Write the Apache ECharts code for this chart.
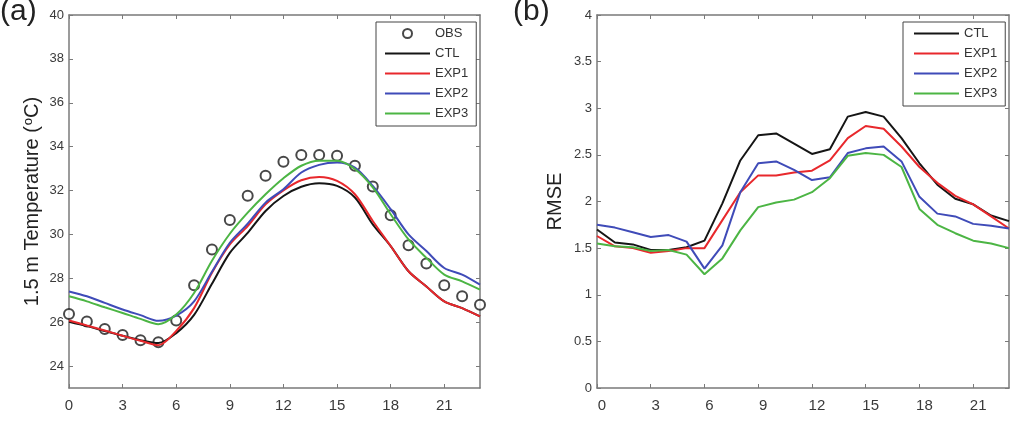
<!DOCTYPE html>
<html>
<head>
<meta charset="utf-8">
<script src="https://cdn.jsdelivr.net/npm/echarts@6/dist/echarts.min.js"></script>
<style>
  html, body { margin: 0; padding: 0; background: #fff; }
  #chart { width: 1020px; height: 421px; }
</style>
</head>
<body>
<div id="chart"></div>
<script>
// hours of the day (x axis of both panels)
var hours = [0, 1, 2, 3, 4, 5, 6, 7, 8, 9, 10, 11, 12, 13, 14, 15, 16, 17, 18, 19, 20, 21, 22, 23];
var xTicks = [0, 3, 6, 9, 12, 15, 18, 21];
var tempTicks = [24, 26, 28, 30, 32, 34, 36, 38, 40];

// (a) 1.5 m temperature
var tObs = [26.37, 26.03, 25.69, 25.42, 25.18, 25.08, 26.08, 27.68, 29.31, 30.66, 31.76, 32.67,
  33.31, 33.62, 33.62, 33.59, 33.13, 32.18, 30.87, 29.51, 28.67, 27.68, 27.18, 26.79];
var tCtl = [26.02, 25.82, 25.6, 25.38, 25.18, 25.05, 25.5, 26.33, 27.75, 29.16, 30.07, 31.07,
  31.75, 32.17, 32.33, 32.21, 31.68, 30.46, 29.47, 28.32, 27.63, 26.95, 26.64, 26.26];
var tExp1 = [26.08, 25.85, 25.62, 25.38, 25.15, 24.95, 25.6, 26.64, 28.25, 29.54, 30.38, 31.37,
  32.01, 32.47, 32.62, 32.44, 31.83, 30.61, 29.47, 28.32, 27.63, 26.95, 26.64, 26.26];
var tExp2 = [27.4, 27.18, 26.88, 26.58, 26.32, 26.06, 26.3, 26.95, 28.3, 29.62, 30.49, 31.45,
  32.06, 32.82, 33.17, 33.28, 33.05, 32.21, 31.15, 30.0, 29.24, 28.47, 28.17, 27.71];
var tExp3 = [27.18, 26.95, 26.68, 26.42, 26.15, 25.91, 26.35, 27.33, 28.8, 30.03, 30.99, 31.83,
  32.56, 33.13, 33.36, 33.36, 32.98, 32.14, 30.92, 29.77, 28.93, 28.17, 27.86, 27.48];

// (b) RMSE
var rCtl = [1.70, 1.56, 1.54, 1.48, 1.48, 1.51, 1.58, 1.98, 2.44, 2.71, 2.73, 2.62,
  2.51, 2.56, 2.91, 2.96, 2.91, 2.68, 2.41, 2.18, 2.03, 1.97, 1.85, 1.79];
var rExp1 = [1.63, 1.52, 1.50, 1.45, 1.47, 1.50, 1.50, 1.80, 2.10, 2.28, 2.28, 2.31,
  2.33, 2.44, 2.68, 2.81, 2.78, 2.59, 2.37, 2.20, 2.06, 1.97, 1.84, 1.71];
var rExp2 = [1.75, 1.72, 1.67, 1.62, 1.64, 1.57, 1.28, 1.53, 2.10, 2.41, 2.43, 2.34,
  2.23, 2.26, 2.52, 2.57, 2.59, 2.43, 2.05, 1.87, 1.84, 1.76, 1.74, 1.71];
var rExp3 = [1.55, 1.52, 1.51, 1.47, 1.48, 1.43, 1.22, 1.39, 1.69, 1.94, 1.99, 2.02,
  2.10, 2.25, 2.49, 2.52, 2.50, 2.37, 1.92, 1.75, 1.66, 1.58, 1.55, 1.50];

var colors = { CTL: "#151515", EXP1: "#e8282c", EXP2: "#3f4bb8", EXP3: "#4cb544", OBS: "#1a1a1a" };
var font = "'Liberation Sans', Arial, sans-serif";
var axisGray = "#7a7a7a";

function pairs(ys) {
  return hours.map(function (h, i) { return [h, ys[i]]; });
}

function xAxisFor(grid, pos, labels, labelPad) {
  return {
    type: "value", gridIndex: grid, position: pos, min: 0, max: 23,
    axisLine: { show: true, onZero: false, lineStyle: { color: axisGray, width: 1.5 } },
    axisTick: { show: true, inside: true, length: 4, customValues: xTicks, lineStyle: { color: axisGray } },
    axisLabel: {
      show: labels, customValues: xTicks, color: "#3a3a3a", fontSize: 15, fontFamily: font,
      margin: 10, padding: labelPad
    },
    splitLine: { show: false }
  };
}

function yAxisFor(grid, pos, opts) {
  var ax = {
    type: "value", gridIndex: grid, position: pos, min: opts.min, max: opts.max,
    axisLine: { show: true, onZero: false, lineStyle: { color: axisGray, width: 1.5 } },
    axisTick: { show: true, inside: true, length: 4, lineStyle: { color: axisGray } },
    axisLabel: { show: opts.labels, color: "#3a3a3a", fontSize: 13, fontFamily: font, margin: 5 },
    splitLine: { show: false }
  };
  if (opts.interval) ax.interval = opts.interval;
  if (opts.ticks) {
    ax.axisTick.customValues = opts.ticks;
    ax.axisLabel.customValues = opts.ticks;
  }
  if (opts.name) {
    ax.name = opts.name;
    ax.nameLocation = "middle";
    ax.nameGap = opts.nameGap;
    ax.nameTextStyle = opts.nameStyle;
  }
  return ax;
}

function lineSeries(name, ys, xi, yi, smooth) {
  return {
    name: name, type: "line", xAxisIndex: xi, yAxisIndex: yi, data: pairs(ys),
    symbol: "none", showSymbol: false, smooth: smooth,
    lineStyle: { color: colors[name], width: 2 }, itemStyle: { color: colors[name] }
  };
}

// legend entries for lines: hide the symbol dot, keep the line
function lineItem(name) {
  return { name: name, itemStyle: { opacity: 0 } };
}

var nameStyle = {
  color: "#222", fontFamily: font, fontSize: 20,
  rich: {
    t: { color: "#222", fontFamily: font, fontSize: 20 },
    s: { color: "#222", fontFamily: font, fontSize: 13, verticalAlign: "top", padding: [0, 0, 7, 1] }
  }
};

var legendBase = {
  orient: "vertical", top: 22, itemWidth: 45, itemHeight: 9, itemGap: 7,
  borderColor: "#444", borderWidth: 1, borderRadius: 0, backgroundColor: "#fff",
  textStyle: { color: "#333", fontFamily: font, fontSize: 13 },
  selectedMode: false
};

var option = {
  animation: false,
  backgroundColor: "#fff",
  grid: [
    { left: 69, top: 15, width: 411, height: 373 },
    { left: 597, top: 15, width: 412, height: 373 }
  ],
  xAxis: [
    xAxisFor(0, "bottom", true, 0),
    xAxisFor(0, "top", false, 0),
    xAxisFor(1, "bottom", true, [0, 0, 0, 10]),
    xAxisFor(1, "top", false, 0)
  ],
  yAxis: [
    yAxisFor(0, "left", { min: 23, max: 40, ticks: tempTicks, labels: true,
      name: "{t|1.5 m Temperature (}{s|o}{t|C)}", nameGap: 27, nameStyle: nameStyle }),
    yAxisFor(0, "right", { min: 23, max: 40, ticks: tempTicks, labels: false }),
    yAxisFor(1, "left", { min: 0, max: 4, interval: 0.5, labels: true,
      name: "RMSE", nameGap: 32, nameStyle: { color: "#222", fontFamily: font, fontSize: 20 } }),
    yAxisFor(1, "right", { min: 0, max: 4, interval: 0.5, labels: false })
  ],
  legend: [
    Object.assign({}, legendBase, {
      left: 376, padding: [5, 8, 6, 8],
      data: ["OBS", lineItem("CTL"), lineItem("EXP1"), lineItem("EXP2"), lineItem("EXP3")]
    }),
    Object.assign({}, legendBase, {
      left: 903, padding: [5, 8, 6, 10],
      data: [lineItem("CTL"), lineItem("EXP1"), lineItem("EXP2"), lineItem("EXP3")]
    })
  ],
  graphic: [
    { type: "text", left: 0, top: -3, style: { text: "(a)", fill: "#222", font: "30px " + font } },
    { type: "text", left: 513, top: -3, style: { text: "(b)", fill: "#222", font: "30px " + font } }
  ],
  series: [
    lineSeries("CTL", tCtl, 0, 0, 0.3),
    lineSeries("EXP1", tExp1, 0, 0, 0.3),
    lineSeries("EXP2", tExp2, 0, 0, 0.3),
    lineSeries("EXP3", tExp3, 0, 0, 0.3),
    {
      name: "OBS", type: "scatter", xAxisIndex: 0, yAxisIndex: 0, data: pairs(tObs),
      symbol: "emptyCircle", symbolSize: 10,
      itemStyle: { color: colors.OBS, borderColor: colors.OBS, borderWidth: 2.2 }
    },
    lineSeries("CTL", rCtl, 2, 2, false),
    lineSeries("EXP1", rExp1, 2, 2, false),
    lineSeries("EXP2", rExp2, 2, 2, false),
    lineSeries("EXP3", rExp3, 2, 2, false)
  ]
};

var chart = echarts.init(document.getElementById("chart"));
chart.setOption(option);
</script>
</body>
</html>
